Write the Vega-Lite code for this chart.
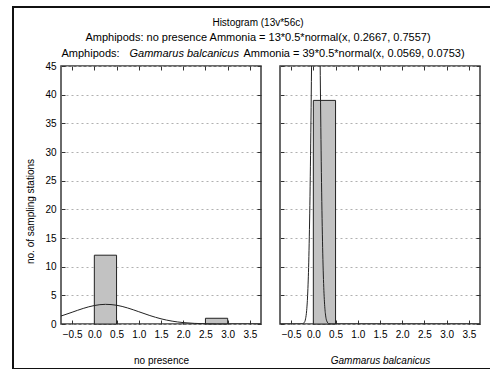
{
  "$schema": "https://vega.github.io/schema/vega-lite/v6.json",
  "padding": {"left": 12, "top": 6, "right": 1, "bottom": 2},
  "autosize": {"type": "pad"},
  "background": "white",
  "config": {
    "font": "Liberation Sans",
    "view": {"stroke": "#3a3a3a", "strokeWidth": 1.5},
    "axis": {"labelFont": "Liberation Sans", "labelFontSize": 10, "labelColor": "#000", "titleFont": "Liberation Sans", "titleFontSize": 10, "titleFontWeight": "normal", "titleColor": "#000", "tickColor": "#333", "domain": false},
    "title": {"font": "Liberation Sans", "fontSize": 10, "fontWeight": "normal", "color": "#000", "subtitleFont": "Liberation Sans", "subtitleFontSize": 11, "subtitleColor": "#000"},
    "legend": {"strokeWidth": 2}
  },
  "title": {"text": "Histogram (13v*56c)", "subtitle": "Amphipods: no presence Ammonia = 13*0.5*normal(x, 0.2667, 0.7557)", "subtitlePadding": 4, "anchor": "middle", "frame": "group", "dx": 197, "offset": -37},
  "spacing": 19,
  "bounds": "flush",
  "hconcat": [
    {
      "width": 200,
      "height": 258,
      "layer": [
        {
          "data": {"values": [{"bin_start": 0, "bin_end": 0.5, "count": 12}, {"bin_start": 2.5, "bin_end": 3.0, "count": 1}]},
          "mark": {"type": "bar", "fill": "#c2c2c2", "stroke": "#222", "strokeWidth": 1},
          "encoding": {
            "x": {"field": "bin_start", "type": "quantitative", "scale": {"domain": [-0.75, 3.75], "nice": false, "zero": false},
                  "axis": {"orient": "bottom", "values": [-0.5, 0, 0.5, 1, 1.5, 2, 2.5, 3, 3.5], "format": ".1f", "title": "no presence", "grid": false, "tickSize": -4, "labelPadding": 9, "titlePadding": 16}},
            "x2": {"field": "bin_end"},
            "y": {"field": "count", "type": "quantitative", "scale": {"domain": [0, 45], "nice": false},
                  "axis": {"orient": "left", "values": [0, 5, 10, 15, 20, 25, 30, 35, 40, 45], "title": "no. of sampling stations", "grid": true, "gridDash": [2, 3], "gridColor": "#b0b0b0", "tickSize": -4, "labelPadding": 9, "titleX": -31, "titleY": 145, "titleAlign": "center", "titleBaseline": "middle"}},
            "y2": {"datum": 0}
          }
        },
        {
          "data": {"values": [
            {"x": -0.75, "y": 1.388}, {"x": -0.5, "y": 2.051}, {"x": -0.25, "y": 2.716}, {"x": 0, "y": 3.224},
            {"x": 0.25, "y": 3.43}, {"x": 0.5, "y": 3.271}, {"x": 0.75, "y": 2.796}, {"x": 1.0, "y": 2.143},
            {"x": 1.25, "y": 1.472}, {"x": 1.5, "y": 0.906}, {"x": 1.75, "y": 0.5}, {"x": 2.0, "y": 0.247},
            {"x": 2.25, "y": 0.11}, {"x": 2.5, "y": 0.044}, {"x": 2.75, "y": 0.016}, {"x": 3.0, "y": 0.005},
            {"x": 3.25, "y": 0.001}, {"x": 3.5, "y": 0.0004}, {"x": 3.75, "y": 0.0001}
          ]},
          "mark": {"type": "line", "color": "#222", "strokeWidth": 1, "interpolate": "monotone", "clip": true},
          "encoding": {
            "x": {"field": "x", "type": "quantitative", "scale": {"domain": [-0.75, 3.75], "nice": false, "zero": false}, "axis": null},
            "y": {"field": "y", "type": "quantitative", "scale": {"domain": [0, 45], "nice": false}, "axis": null}
          }
        },
        {
          "data": {"values": [{"bin_start": 0, "count": 12}, {"bin_start": 2.5, "count": 1}]},
          "mark": {"type": "point", "opacity": 0},
          "encoding": {
            "x": {"field": "bin_start", "type": "quantitative", "scale": {"domain": [-0.75, 3.75], "nice": false, "zero": false},
                  "axis": {"orient": "top", "values": [-0.5, 0, 0.5, 1, 1.5, 2, 2.5, 3, 3.5], "labels": false, "grid": false, "tickSize": -4,
                           "title": "Amphipods:", "titleFontSize": 11, "titleX": 0, "titleY": -9.5, "titleAlign": "left", "titleBaseline": "alphabetic", "titleAngle": 0}},
            "y": {"field": "count", "type": "quantitative", "scale": {"domain": [0, 45], "nice": false},
                  "axis": {"orient": "right", "values": [0, 5, 10, 15, 20, 25, 30, 35, 40, 45], "labels": false, "title": null, "grid": false, "tickSize": -4}},
            "color": {"field": "count", "type": "quantitative", "scale": {"range": ["rgba(255,255,255,0)", "rgba(255,255,255,0)"]},
                      "legend": {"type": "gradient", "orient": "none", "legendX": -48, "legendY": -59, "direction": "vertical", "gradientLength": 362, "gradientThickness": 488, "gradientStrokeWidth": 0, "labelExpr": "''", "labelFontSize": 1, "labelOffset": 0, "title": null, "padding": 0, "strokeColor": "#111"}}
          }
        }
      ],
      "resolve": {"scale": {"x": "independent", "y": "independent"}, "axis": {"x": "independent", "y": "independent"}}
    },
    {
      "width": 200,
      "height": 258,
      "layer": [
        {
          "data": {"values": [{"bin_start": 0, "bin_end": 0.5, "count": 39}]},
          "mark": {"type": "bar", "fill": "#c2c2c2", "stroke": "#222", "strokeWidth": 1},
          "encoding": {
            "x": {"field": "bin_start", "type": "quantitative", "scale": {"domain": [-0.75, 3.75], "nice": false, "zero": false},
                  "axis": {"orient": "bottom", "values": [-0.5, 0, 0.5, 1, 1.5, 2, 2.5, 3, 3.5], "format": ".1f", "title": "Gammarus balcanicus", "titleFontStyle": "italic", "grid": false, "tickSize": -4, "labelPadding": 9, "titlePadding": 16}},
            "x2": {"field": "bin_end"},
            "y": {"field": "count", "type": "quantitative", "scale": {"domain": [0, 45], "nice": false},
                  "axis": {"orient": "left", "values": [0, 5, 10, 15, 20, 25, 30, 35, 40, 45], "labels": false, "grid": true, "gridDash": [2, 3], "gridColor": "#b0b0b0", "tickSize": -4,
                           "title": "Gammarus balcanicus", "titleFontStyle": "italic", "titleFontSize": 11, "titleX": -151, "titleY": -9.5, "titleAlign": "left", "titleBaseline": "alphabetic", "titleAngle": 0}},
            "y2": {"datum": 0}
          }
        },
        {
          "data": {"values": [
            {"x": -0.75, "y": 0}, {"x": -0.5, "y": 0}, {"x": -0.3, "y": 0.0014}, {"x": -0.25, "y": 0.0255},
            {"x": -0.2, "y": 0.3065}, {"x": -0.175, "y": 0.9}, {"x": -0.15, "y": 2.37}, {"x": -0.125, "y": 5.583},
            {"x": -0.1, "y": 11.79}, {"x": -0.075, "y": 22.27}, {"x": -0.05, "y": 37.71}, {"x": -0.025, "y": 57.18},
            {"x": 0, "y": 77.64}, {"x": 0.025, "y": 94.44}, {"x": 0.05, "y": 102.9}, {"x": 0.075, "y": 100.4},
            {"x": 0.1, "y": 87.69}, {"x": 0.125, "y": 68.62}, {"x": 0.15, "y": 48.1}, {"x": 0.175, "y": 30.2},
            {"x": 0.2, "y": 16.98}, {"x": 0.225, "y": 8.545}, {"x": 0.25, "y": 3.856}, {"x": 0.275, "y": 1.557},
            {"x": 0.3, "y": 0.563}, {"x": 0.35, "y": 0.053}, {"x": 0.4, "y": 0.0032}, {"x": 0.5, "y": 0},
            {"x": 1.0, "y": 0}, {"x": 2.0, "y": 0}, {"x": 3.0, "y": 0}, {"x": 3.75, "y": 0}
          ]},
          "mark": {"type": "line", "color": "#222", "strokeWidth": 1, "interpolate": "monotone", "clip": true},
          "encoding": {
            "x": {"field": "x", "type": "quantitative", "scale": {"domain": [-0.75, 3.75], "nice": false, "zero": false}, "axis": null},
            "y": {"field": "y", "type": "quantitative", "scale": {"domain": [0, 45], "nice": false}, "axis": null}
          }
        },
        {
          "data": {"values": [{"bin_start": 0, "count": 39}]},
          "mark": {"type": "point", "opacity": 0},
          "encoding": {
            "x": {"field": "bin_start", "type": "quantitative", "scale": {"domain": [-0.75, 3.75], "nice": false, "zero": false},
                  "axis": {"orient": "top", "values": [-0.5, 0, 0.5, 1, 1.5, 2, 2.5, 3, 3.5], "labels": false, "grid": false, "tickSize": -4,
                           "title": "Ammonia = 39*0.5*normal(x, 0.0569, 0.0753)", "titleFontSize": 11, "titleX": -37, "titleY": -9.5, "titleAlign": "left", "titleBaseline": "alphabetic", "titleAngle": 0}},
            "y": {"field": "count", "type": "quantitative", "scale": {"domain": [0, 45], "nice": false},
                  "axis": {"orient": "right", "values": [0, 5, 10, 15, 20, 25, 30, 35, 40, 45], "labels": false, "title": null, "grid": false, "tickSize": -4}}
          }
        }
      ],
      "resolve": {"scale": {"x": "independent", "y": "independent"}, "axis": {"x": "independent", "y": "independent"}}
    }
  ]
}
